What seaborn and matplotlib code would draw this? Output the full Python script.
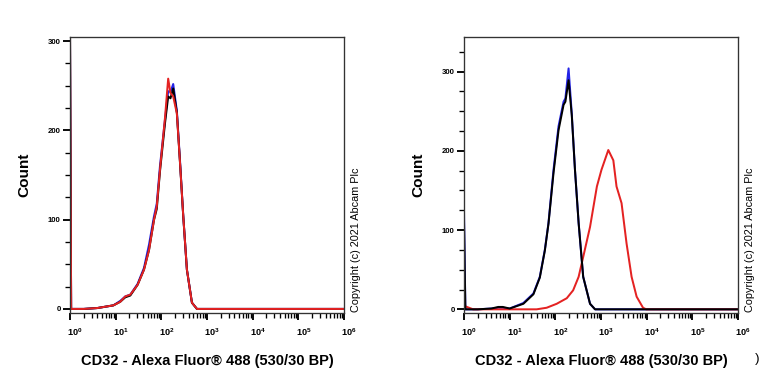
import numpy as np
import pandas as pd
import matplotlib
matplotlib.use("Agg")
import matplotlib.pyplot as plt
import matplotlib.transforms as mtransforms
from matplotlib.ticker import FixedLocator, MultipleLocator, NullFormatter
import seaborn as sns

sns.set_theme(style="ticks")
plt.rcParams['font.family'] = ['Liberation Sans', 'DejaVu Sans']
plt.rcParams['mathtext.fontset'] = 'custom'
plt.rcParams['mathtext.bf'] = 'Liberation Sans:bold'
plt.rcParams['mathtext.rm'] = 'Liberation Sans'

# ---- data (x in decades of fluorescence, y = count) ----
left_red_dec = [0.0, 0.025, 0.3, 0.6, 0.95, 1.1, 1.21, 1.32, 1.48, 1.62, 1.73, 1.84, 1.90, 1.97, 2.08, 2.15, 2.20, 2.26, 2.34, 2.41, 2.48, 2.56, 2.67, 2.78, 6.0]
left_red_cnt = [310, 0, 0, 1, 4, 8, 14, 16, 27, 44, 66, 100, 115, 156, 214, 258, 242, 238, 219, 163, 104, 44, 7, 0, 0]
left_blue_dec = [0.0, 0.025, 0.3, 0.6, 0.95, 1.1, 1.21, 1.32, 1.48, 1.62, 1.73, 1.84, 1.90, 1.97, 2.08, 2.15, 2.20, 2.26, 2.34, 2.41, 2.48, 2.56, 2.67, 2.78, 6.0]
left_blue_cnt = [305, 0, 0, 1, 4, 9, 14, 16, 28, 46, 72, 104, 118, 160, 212, 244, 243, 252, 222, 165, 104, 44, 7, 0, 0]
left_black_dec = [0.0, 0.025, 0.3, 0.6, 0.95, 1.1, 1.21, 1.32, 1.48, 1.62, 1.73, 1.84, 1.90, 1.97, 2.08, 2.15, 2.20, 2.26, 2.34, 2.41, 2.48, 2.56, 2.67, 2.78, 6.0]
left_black_cnt = [300, 0, 0, 1, 4, 8, 13, 15, 27, 44, 66, 100, 112, 154, 208, 238, 236, 247, 220, 163, 104, 44, 7, 0, 0]

right_blue_dec = [0.0, 0.03, 0.3, 0.6, 0.75, 0.85, 1.0, 1.3, 1.52, 1.66, 1.77, 1.85, 1.96, 2.07, 2.18, 2.22, 2.29, 2.36, 2.43, 2.51, 2.61, 2.76, 2.87, 6.0]
right_blue_cnt = [123, 0, 0, 1, 2, 2, 1, 8, 20, 41, 75, 109, 176, 231, 262, 266, 304, 247, 176, 109, 41, 7, 0, 0]
right_black_dec = [0.0, 0.03, 0.3, 0.6, 0.75, 0.85, 1.0, 1.3, 1.52, 1.66, 1.77, 1.85, 1.96, 2.07, 2.18, 2.22, 2.29, 2.36, 2.43, 2.51, 2.61, 2.76, 2.87, 6.0]
right_black_cnt = [110, 0, 0, 1, 3, 3, 1, 7, 19, 40, 74, 108, 172, 226, 258, 262, 289, 245, 176, 109, 41, 7, 0, 0]
right_red_dec = [0.0, 0.02, 0.2, 1.59, 1.81, 2.03, 2.25, 2.39, 2.51, 2.61, 2.76, 2.91, 3.01, 3.16, 3.27, 3.34, 3.45, 3.56, 3.67, 3.78, 3.92, 3.99, 6.0]
right_red_cnt = [5, 4, 0, 0, 2, 7, 14, 24, 41, 66, 104, 155, 176, 201, 188, 155, 134, 83, 41, 16, 2, 0, 0]

decade_labels = [r"$\mathbf{10^{0}}$", r"$\mathbf{10^{1}}$", r"$\mathbf{10^{2}}$", r"$\mathbf{10^{3}}$",
                 r"$\mathbf{10^{4}}$", r"$\mathbf{10^{5}}$", r"$\mathbf{10^{6}}$"]
y_labels = [0, 100, 200, 300]
xlabel_text = "CD32 - Alexa Fluor® 488 (530/30 BP)"
ylabel_text = "Count"
copyright_text = "Copyright (c) 2021 Abcam Plc"

BLUE = "#2323e6"
BLACK = "#000000"
RED = "#e42222"

fig = plt.figure(figsize=(8, 4), dpi=96)
W, H = 768, 384

def make_ax(x0, x1, y0, y1):
    return fig.add_axes([x0 / W, 1 - y1 / H, (x1 - x0) / W, (y1 - y0) / H])

axL = make_ax(70, 344, 36.7, 312.5)
axR = make_ax(464, 738, 36.7, 312.5)

def draw(ax, series, ytop):
    for dec, cnt, col in series:
        df = pd.DataFrame({"x": np.power(10.0, dec), "y": cnt})
        sns.lineplot(data=df, x="x", y="y", ax=ax, color=col, lw=1.5,
                     sort=False, estimator=None)
    ax.set_xscale("log")
    ax.set_xlim(1, 1e6)
    ax.set_ylim(-4, ytop)
    ax.set_xticks([10.0 ** k for k in range(7)])
    ax.set_xticklabels(decade_labels)
    ax.xaxis.set_minor_locator(FixedLocator([m * 10.0 ** k for k in range(6) for m in range(2, 10)]))
    ax.xaxis.set_minor_formatter(NullFormatter())
    ax.set_yticks(y_labels)
    ax.set_yticklabels([str(v) for v in y_labels])
    ax.yaxis.set_minor_locator(MultipleLocator(25))
    ax.tick_params(axis="x", which="major", direction="out", length=5.5, width=1.4,
                   labelsize=6.8, pad=5, colors="black", bottom=True)
    ax.tick_params(axis="x", which="minor", direction="out", length=3.5, width=1.0,
                   colors="black", bottom=True)
    ax.tick_params(axis="y", which="major", direction="out", length=5, width=1.4,
                   labelsize=5.8, pad=2, colors="black", left=True)
    ax.tick_params(axis="y", which="minor", direction="out", length=3.5, width=1.0,
                   colors="black", left=True)
    for lab in ax.get_yticklabels():
        lab.set_fontweight("bold")
    offset = mtransforms.ScaledTranslation(5 / 96, 0, fig.dpi_scale_trans)
    for lab in ax.get_xticklabels():
        lab.set_transform(lab.get_transform() + offset)
    for s in ax.spines.values():
        s.set_color("#333333")
        s.set_linewidth(1.0)
        s.set_visible(True)
    ax.set_xlabel(xlabel_text, fontsize=11, fontweight="bold", labelpad=12, color="black")
    ax.set_ylabel(ylabel_text, fontsize=11.5, fontweight="bold", labelpad=12, color="black")
    ax.text(1.025, 0.0, copyright_text, transform=ax.transAxes, rotation=90,
            fontsize=8.2, ha="left", va="bottom", color="black")

draw(axL, [(left_blue_dec, left_blue_cnt, BLUE),
           (left_black_dec, left_black_cnt, BLACK),
           (left_red_dec, left_red_cnt, RED)], 305)
draw(axR, [(right_blue_dec, right_blue_cnt, BLUE),
           (right_red_dec, right_red_cnt, RED),
           (right_black_dec, right_black_cnt, BLACK)], 344)

fig.text(757 / W, 1 - 359 / H, ")", fontsize=10, ha="center", va="center", color="black")

fig.savefig("out.png", dpi=96, facecolor="white")
